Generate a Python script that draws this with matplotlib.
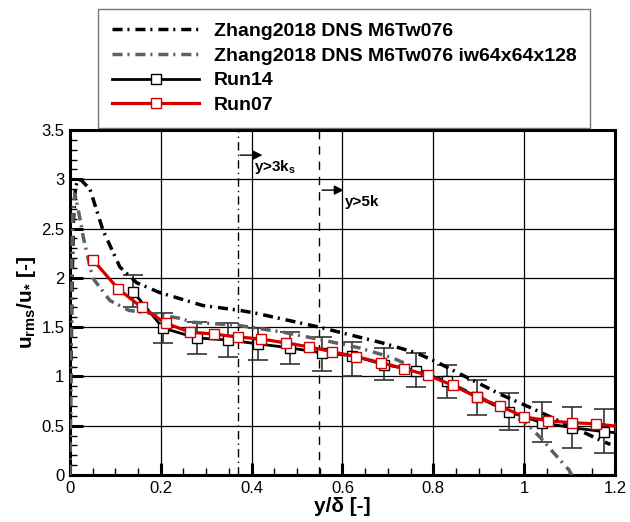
import numpy as np
from matplotlib import pyplot as plt

plt.rcParams["font.family"] = ["Liberation Sans", "DejaVu Sans"]
plt.rcParams["mathtext.fontset"] = "custom"
plt.rcParams["mathtext.rm"] = "Liberation Sans"
plt.rcParams["mathtext.bf"] = "Liberation Sans:bold"

# Zhang2018 DNS M6Tw076
x_dns = [0, 0.002, 0.005, 0.008, 0.012, 0.017, 0.025, 0.044, 0.073, 0.11, 0.147,
         0.198, 0.292, 0.374, 0.411, 0.549, 0.688, 0.762, 0.806, 0.857, 0.952,
         1.011, 1.1, 1.165, 1.19]
y_dns = [0, 1.0, 2.0, 2.6, 2.9, 3.0, 2.99, 2.9, 2.48, 2.11, 1.95, 1.85, 1.72,
         1.67, 1.64, 1.50, 1.34, 1.24, 1.15, 1.03, 0.81, 0.69, 0.5, 0.36, 0.31]

# Zhang2018 DNS M6Tw076 iw64x64x128
x_iw = [0, 0.002, 0.004, 0.007, 0.011, 0.018, 0.03, 0.05, 0.088, 0.13, 0.176,
        0.242, 0.27, 0.367, 0.468, 0.556, 0.637, 0.71, 0.82, 0.9, 1.004, 1.04,
        1.07, 1.099, 1.105]
y_iw = [0, 1.2, 2.2, 2.7, 2.85, 2.7, 2.4, 2.0, 1.77, 1.67, 1.64, 1.59, 1.55,
        1.52, 1.45, 1.37, 1.29, 1.19, 0.96, 0.8, 0.53, 0.36, 0.2, 0.05, 0]

# Run14 with error bars
x14 = [0.139, 0.205, 0.28, 0.347, 0.415, 0.484, 0.554, 0.622, 0.692, 0.762,
       0.83, 0.897, 0.967, 1.04, 1.106, 1.176, 1.245]
y14 = [1.86, 1.49, 1.39, 1.37, 1.33, 1.29, 1.24, 1.21, 1.12, 1.06, 0.95, 0.79,
       0.64, 0.53, 0.48, 0.44, 0.41]
lo14 = [1.70, 1.34, 1.23, 1.20, 1.17, 1.13, 1.06, 1.00, 0.96, 0.89, 0.78, 0.61,
        0.46, 0.34, 0.27, 0.22, 0.41]
hi14 = [2.03, 1.64, 1.55, 1.54, 1.49, 1.45, 1.40, 1.35, 1.29, 1.24, 1.12, 0.96,
        0.83, 0.74, 0.69, 0.67, 0.41]

# Run07
x07 = [0.051, 0.106, 0.158, 0.211, 0.264, 0.317, 0.369, 0.421, 0.475, 0.527,
       0.578, 0.631, 0.685, 0.736, 0.789, 0.843, 0.896, 0.947, 1.0, 1.053,
       1.106, 1.158, 1.211]
y07 = [2.18, 1.89, 1.70, 1.54, 1.45, 1.43, 1.40, 1.38, 1.34, 1.30, 1.25, 1.20,
       1.14, 1.08, 1.01, 0.91, 0.79, 0.70, 0.59, 0.55, 0.53, 0.52, 0.49]

x_3ks = 0.369
x_5k = 0.549

fig = plt.figure(figsize=(6.3, 5.22), dpi=100)
ax = fig.add_axes([0.111, 0.09, 0.865, 0.661])

dash = (2.9, 1.4, 0.6, 1.7)
ax.plot(x_dns, y_dns, color="black", lw=2.5, dashes=dash, label="Zhang2018 DNS M6Tw076", zorder=4)
ax.plot(x_iw, y_iw, color="#606060", lw=2.5, dashes=dash,
        label="Zhang2018 DNS M6Tw076 iw64x64x128", zorder=4)

y14a = np.array(y14)
yerr = [y14a - np.array(lo14), np.array(hi14) - y14a]
ax.errorbar(x14, y14, yerr=yerr, fmt="none", ecolor="#333333", elinewidth=1.2,
            capsize=7, capthick=1.2, zorder=3)
ax.plot(x14, y14, color="black", lw=2, marker="s", ms=7, mfc="white", mec="black",
        mew=1, label="Run14", zorder=5)
ax.plot(x07, y07, color="#d40000", lw=2.3, marker="s", ms=7, mfc="white",
        mec="#d40000", mew=1, label="Run07", zorder=6)

ax.axvline(x_3ks, color="black", lw=1, dashes=(6, 3, 1, 3), zorder=2)
ax.axvline(x_5k, color="black", lw=1, dashes=(6, 5), zorder=2)

ax.annotate("", xy=(0.43, 3.245), xytext=(x_3ks, 3.245),
            arrowprops=dict(arrowstyle="-|>", color="black", lw=1, mutation_scale=14))
ax.text(0.405, 3.12, r"y>3k$_\mathregular{s}$", fontsize=11, fontweight="bold", va="center")
ax.annotate("", xy=(0.609, 2.89), xytext=(x_5k, 2.89),
            arrowprops=dict(arrowstyle="-|>", color="black", lw=1, mutation_scale=14))
ax.text(0.605, 2.77, "y>5k", fontsize=11, fontweight="bold", va="center")

ax.set_xlim(0, 1.2)
ax.set_ylim(0, 3.5)
ax.set_xticks(np.arange(0, 1.21, 0.2))
ax.set_xticklabels(["0", "0.2", "0.4", "0.6", "0.8", "1", "1.2"])
ax.set_yticks(np.arange(0, 3.51, 0.5))
ax.set_yticklabels(["0", "0.5", "1", "1.5", "2", "2.5", "3", "3.5"])
ax.set_xticks(np.arange(0, 1.21, 0.05), minor=True)
ax.set_yticks(np.arange(0, 3.51, 0.1), minor=True)
ax.tick_params(which="major", direction="in", length=9, width=2.2, labelsize=12, pad=4)
ax.tick_params(which="minor", direction="in", length=5, width=1)
ax.grid(True, which="major", color="black", lw=0.9)
for s in ax.spines.values():
    s.set_linewidth(2.2)

ax.set_xlabel("y/δ [-]", fontsize=15, fontweight="bold", labelpad=1)
ax.set_ylabel(r"u$_\mathregular{rms}$/u$_\mathregular{*}$ [-]", fontsize=15,
              fontweight="bold", labelpad=2)

fig.legend(loc="upper left", bbox_to_anchor=(0.156, 0.983),
           prop=dict(weight="bold", size=14), handlelength=4.5, labelspacing=0.36,
           frameon=True, fancybox=False, edgecolor="#555555", borderpad=0.7,
           handletextpad=0.75, borderaxespad=0)

plt.savefig("out.png", dpi=100)
